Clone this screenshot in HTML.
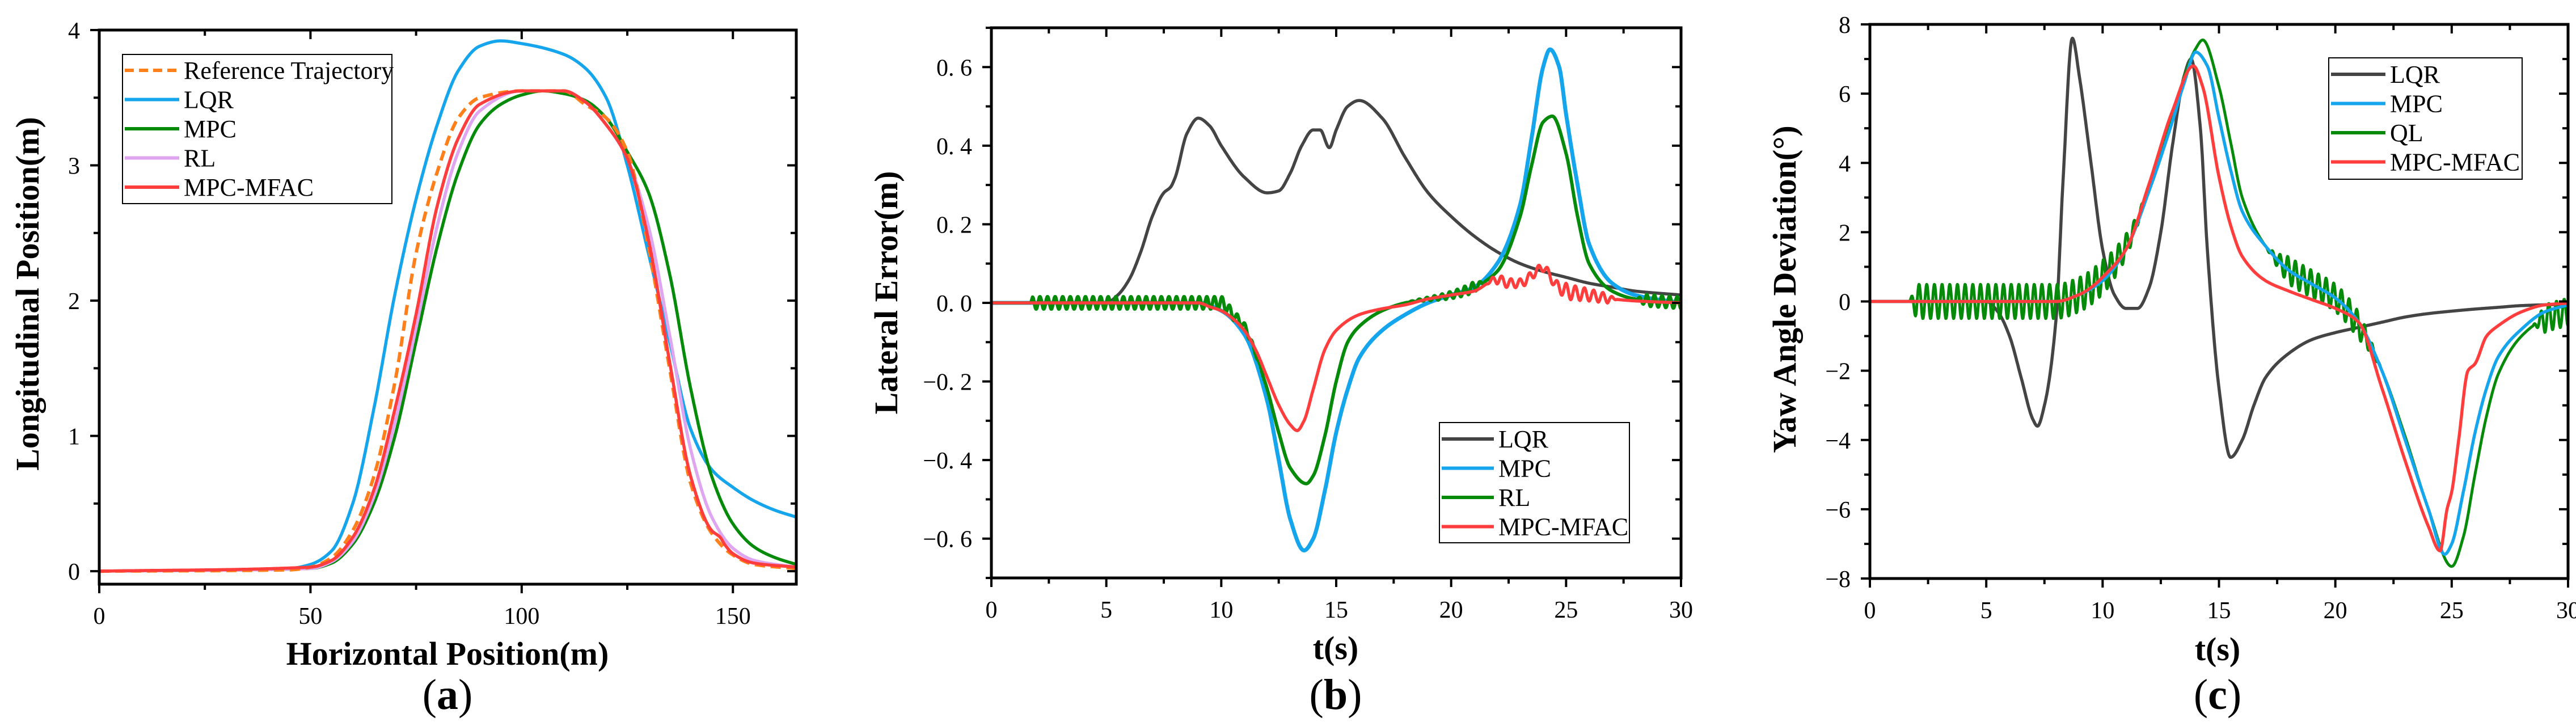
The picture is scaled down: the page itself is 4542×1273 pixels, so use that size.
<!DOCTYPE html>
<html><head><meta charset="utf-8"><style>
html,body{margin:0;padding:0;background:#fff;}
svg{display:block;}
text{font-family:"Liberation Serif",serif;}
</style></head><body>
<svg id="fig" width="4542" height="1273" viewBox="0 0 4542 1273" xmlns="http://www.w3.org/2000/svg"></svg>
<script>
// ---------- Panel (a) data ----------
const aRefX  = [0,45,50,55,60,65,70,75,80,85,90,100,110,115,120,125,130,135,140,145,150,155,165];
const aRefY  = [0,0.01,0.03,0.1,0.3,0.7,1.4,2.35,2.95,3.35,3.5,3.55,3.55,3.45,3.35,3.1,2.4,1.5,0.65,0.28,0.12,0.05,0.02];
const aLqrX  = [0,45,50,55,60,65,70,75,80,85,90,95,100,110,115,120,125,130,135,140,145,150,155,160,165];
const aLqrY  = [0,0.02,0.05,0.15,0.5,1.2,2.05,2.75,3.3,3.7,3.88,3.92,3.9,3.82,3.72,3.5,3.0,2.35,1.7,1.05,0.75,0.62,0.52,0.45,0.4];
const aMpcX  = [0,50,55,60,65,70,75,80,85,90,95,100,105,110,115,120,125,130,135,140,145,150,155,160,165];
const aMpcY  = [0,0.02,0.06,0.2,0.5,1.0,1.7,2.4,2.95,3.3,3.45,3.52,3.55,3.53,3.48,3.35,3.1,2.8,2.2,1.35,0.7,0.35,0.18,0.1,0.05];
const aRlX   = [0,50,55,60,65,70,75,80,85,90,100,110,115,120,125,130,135,140,145,150,155,165];
const aRlY   = [0,0.02,0.07,0.22,0.55,1.1,1.8,2.55,3.1,3.4,3.55,3.55,3.47,3.3,3.05,2.55,1.75,0.9,0.4,0.17,0.08,0.03];
const aMfX   = [0,50,55,60,65,70,75,80,85,90,100,110,115,120,125,130,135,140,145,147,148,150,155,165];
const aMfY   = [0,0.03,0.08,0.25,0.6,1.2,1.9,2.7,3.2,3.45,3.55,3.55,3.47,3.3,3.05,2.45,1.55,0.7,0.3,0.25,0.2,0.13,0.06,0.03];
const aXTicks = [0,50,100,150];
const aYTicks = [0,1,2,3,4];

// ---------- Panel (b) data ----------
const bLqrT = [0,5,5.5,6,6.5,7,7.5,7.8,8,8.5,9,9.5,10,11,12,12.5,13,13.5,14,14.3,14.7,15,15.5,16,17,18,19,20,21,22,23,24,25,26,27,28,30];
const bLqrV = [0,0,0.02,0.06,0.13,0.22,0.28,0.295,0.32,0.43,0.47,0.45,0.4,0.32,0.28,0.285,0.33,0.4,0.44,0.44,0.395,0.44,0.5,0.515,0.47,0.37,0.28,0.22,0.17,0.13,0.1,0.08,0.065,0.05,0.04,0.03,0.02];
const bMpcT = [0,9,10,11,12,12.5,13,13.6,14,14.5,15,15.5,16,17,18,19,20,21,22,23,23.5,24,24.3,24.7,25,25.5,26,27,28,30];
const bMpcV = [0,0,-0.02,-0.08,-0.25,-0.4,-0.55,-0.63,-0.6,-0.48,-0.33,-0.22,-0.14,-0.07,-0.03,0,0.02,0.04,0.1,0.25,0.42,0.6,0.645,0.6,0.48,0.3,0.15,0.05,0.02,0];
const bRlT  = [0,10,10.5,11,11.5,12,12.5,13,13.7,14,14.5,15,15.5,16,17,18,20,21,22,23,23.5,24,24.4,25,25.5,26,27,28,30];
const bRlV  = [0,0,-0.03,-0.06,-0.13,-0.22,-0.33,-0.42,-0.46,-0.44,-0.34,-0.2,-0.1,-0.06,-0.02,0,0.02,0.04,0.08,0.22,0.35,0.46,0.475,0.38,0.22,0.1,0.03,0.01,0];
const bRlOscT = [0,1.7,1.8,10,11,12,18,21,21.5,28,28.5,30];
const bRlOscA = [0,0,0.016,0.016,0.01,0,0,0.014,0,0,0.015,0.015];
const bMfT  = [0,9,9.5,10,10.5,11,11.5,12,12.5,13,13.3,13.6,14,14.5,15,16,17,18,19,20,21,22,22.5,23,23.5,24,24.5,25,26,27,28,30];
const bMfV  = [0,0,-0.01,-0.02,-0.04,-0.07,-0.12,-0.19,-0.26,-0.31,-0.325,-0.3,-0.22,-0.12,-0.07,-0.03,-0.015,-0.005,0.01,0.02,0.03,0.06,0.05,0.05,0.07,0.09,0.05,0.03,0.02,0.01,0.005,0];
const bMfOscT = [0,21.5,22,24.5,25,26.8,27.2,30];
const bMfOscA = [0,0,0.012,0.01,0.02,0.012,0,0];
const bXTicks = [0,5,10,15,20,25,30];
const bYTicks = [-0.6,-0.4,-0.2,0,0.2,0.4,0.6];

// ---------- Panel (c) data ----------
const cLqrT = [0,5,5.5,6,6.5,7,7.2,7.5,8,8.3,8.7,9,9.5,10,10.5,11,11.5,12,12.5,13,13.5,13.8,14.2,14.5,15,15.5,16,16.5,17,18,19,20,21,22,23,24,25,26,27,28,30];
const cLqrV = [0,0,-0.3,-1.0,-2.2,-3.4,-3.6,-3.0,-0.5,3.5,7.6,6.5,4.0,1.5,0.2,-0.2,-0.2,0.4,2.0,4.5,6.5,7.0,5.0,1.5,-2.5,-4.5,-4.0,-3.0,-2.2,-1.5,-1.1,-0.9,-0.75,-0.6,-0.45,-0.35,-0.28,-0.22,-0.17,-0.12,-0.08];
const cMpcT = [0,8,9,10,11,12,13,13.5,14,14.5,15,15.5,16,17,18,19,20,21,22,23,24,24.7,25,25.5,26,26.5,27,28,29,30];
const cMpcV = [0,0,0.2,0.6,1.5,3.2,5.2,6.3,7.2,6.8,5.3,3.8,2.6,1.6,0.9,0.5,0.1,-0.6,-2.0,-4.0,-6.0,-7.3,-7.0,-5.5,-3.8,-2.5,-1.6,-0.8,-0.3,-0.1];
const cQlT  = [0,8,9,10,11,12,13,14,14.3,15,15.5,16,17,18,19,20,21,22,23,24,25,25.5,26,26.5,27,28,29,30];
const cQlV  = [0,0,0.2,0.7,1.6,3.3,5.4,7.3,7.55,6.2,4.6,3.0,1.6,0.9,0.5,0.1,-0.7,-2.0,-3.9,-6.0,-7.65,-6.8,-5.0,-3.3,-2.1,-1.0,-0.5,-0.3];
const cQlOscT = [0,1.7,2.0,10,11,12,17,18,21,22,28.5,29,30];
const cQlOscA = [0,0,0.5,0.5,0.35,0,0,0.4,0.4,0,0,0.4,0.4];
const cMfT  = [0,8,9,9.5,10,11,12,13,13.9,14.3,15,15.5,16,17,18,19,20,21,22,23,24,24.5,24.8,25,25.3,25.7,26,26.5,27,28,29,30];
const cMfV  = [0,0,0.2,0.4,0.7,1.5,3.4,5.5,6.8,6.2,3.6,2.2,1.3,0.6,0.3,0.05,-0.2,-0.6,-2.5,-4.6,-6.5,-7.2,-6.0,-5.5,-4.0,-2.0,-1.8,-1.0,-0.7,-0.3,-0.1,-0.05];
const cXTicks = [0,5,10,15,20,25,30];
const cYTicks = [-8,-6,-4,-2,0,2,4,6,8];

// ---------- helpers ----------
const NS = "http://www.w3.org/2000/svg";
const svg = document.getElementById('fig');
function mk(tag, attrs, parent){
  const e = document.createElementNS(NS, tag);
  for (const k in attrs) e.setAttribute(k, attrs[k]);
  (parent||svg).appendChild(e);
  return e;
}
function lerp(xs, ys, x){
  if (x <= xs[0]) return ys[0];
  for (let i=1;i<xs.length;i++){
    if (x <= xs[i]){ const f=(x-xs[i-1])/(xs[i]-xs[i-1]); return ys[i-1]+f*(ys[i]-ys[i-1]); }
  }
  return ys[ys.length-1];
}
// monotone cubic (Fritsch-Carlson) interpolator
function monoInterp(xs, ys){
  const n=xs.length, d=[], m=new Array(n).fill(0);
  for (let i=0;i<n-1;i++) d.push((ys[i+1]-ys[i])/(xs[i+1]-xs[i]));
  m[0]=d[0]; m[n-1]=d[n-2];
  for (let i=1;i<n-1;i++){
    if (d[i-1]*d[i]<=0) m[i]=0;
    else { const h0=xs[i]-xs[i-1], h1=xs[i+1]-xs[i]; const w1=2*h1+h0, w2=h1+2*h0; m[i]=(w1+w2)/(w1/d[i-1]+w2/d[i]); }
  }
  return function(x){
    if (x<=xs[0]) return ys[0];
    if (x>=xs[n-1]) return ys[n-1];
    let i=0; while (x>xs[i+1]) i++;
    const h=xs[i+1]-xs[i], t=(x-xs[i])/h, t2=t*t, t3=t2*t;
    return (2*t3-3*t2+1)*ys[i]+(t3-2*t2+t)*h*m[i]+(-2*t3+3*t2)*ys[i+1]+(t3-t2)*h*m[i+1];
  };
}
function curvePts(xs, ys, sx, sy, osc){
  const f = monoInterp(xs, ys);
  const x0=xs[0], x1=xs[xs.length-1];
  const step = osc ? osc[2]/16 : (x1-x0)/1500;
  const out=[];
  for (let t=x0; t<=x1+1e-9; t+=step){
    let v = f(t);
    if (osc) v += lerp(osc[0],osc[1],t)*Math.sin(2*Math.PI*(t-1.7)/osc[2]);
    out.push([sx(t), sy(v)]);
  }
  return out;
}
function ptsStr(p){ return p.map(q=>q[0].toFixed(1)+','+q[1].toFixed(1)).join(' '); }

function panel(cfg){
  const g = mk('g', {});
  
  
  const sx = v => cfg.L + (v-cfg.x0)/(cfg.x1-cfg.x0)*(cfg.R-cfg.L);
  const sy = v => cfg.B - (v-cfg.y0)/(cfg.y1-cfg.y0)*(cfg.B-cfg.T);
  const clipId = cfg.name+'-clip';
  const cp = mk('clipPath', {id:clipId}, g);
  mk('rect', {x:cfg.L, y:cfg.T, width:cfg.R-cfg.L, height:cfg.B-cfg.T}, cp);
  const plot = mk('g', {'clip-path':'url(#'+clipId+')'}, g);
  
  
  cfg.series.forEach(s=>{
    const pts = curvePts(s.x, s.y, sx, sy, s.osc);
    const pl = mk('polyline', {points:ptsStr(pts), fill:'none', stroke:s.color, 'stroke-width':s.w||5.5, 'stroke-linejoin':'round', 'stroke-linecap':s.dash?'butt':'round'}, plot);
    if (s.dash) pl.setAttribute('stroke-dasharray', s.dash);
    
    
  });
  const fr = mk('rect', {x:cfg.L, y:cfg.T, width:cfg.R-cfg.L, height:cfg.B-cfg.T, fill:'none', stroke:'#000', 'stroke-width':5}, g);
  
  
  const xt = cfg.xTicks;
  const xstep = xt[1]-xt[0];
  for (let v=cfg.x0; v<=cfg.x1+1e-9; v+=xstep/2){
    const major = Math.abs(((v-xt[0])/xstep) - Math.round((v-xt[0])/xstep))<1e-6;
    const len = major?16:10;
    mk('line', {x1:sx(v), x2:sx(v), y1:cfg.B, y2:cfg.B+len, stroke:'#000','stroke-width':4}, g);
    mk('line', {x1:sx(v), x2:sx(v), y1:cfg.T, y2:cfg.T+len, stroke:'#000','stroke-width':4}, g);
  }
  xt.forEach(v=>{
    const t = mk('text', {x:sx(v), y:cfg.B+70, 'font-size':42, 'text-anchor':'middle', fill:'#000'}, g);
    t.textContent = cfg.xFmt ? cfg.xFmt(v) : String(v);
    
    
  });
  const yt = cfg.yTicks, ystep = yt[1]-yt[0];
  for (let k=-40;k<=40;k++){
    const v = yt[0] + k*ystep/2;
    if (v < cfg.y0-1e-9 || v > cfg.y1+1e-9) continue;
    const major = k%2===0;
    const len = major?16:10;
    mk('line', {x1:cfg.L-len, x2:cfg.L, y1:sy(v), y2:sy(v), stroke:'#000','stroke-width':4}, g);
    mk('line', {x1:cfg.R-len, x2:cfg.R, y1:sy(v), y2:sy(v), stroke:'#000','stroke-width':4}, g);
  }
  yt.forEach(v=>{
    const t = mk('text', {x:cfg.L-34, y:sy(v)+15, 'font-size':42, 'text-anchor':'end', fill:'#000'}, g);
    t.textContent = cfg.yFmt ? cfg.yFmt(v) : String(v);
    
    
  });
  const xtl = mk('text', {x:cfg.xTitleX, y:cfg.xTitleY, 'font-size':58, 'font-weight':'bold', 'text-anchor':'middle', fill:'#000'}, g);
  xtl.textContent = cfg.xTitle;
  
  
  const ytl = mk('text', {x:0, y:0, 'font-size':58, 'font-weight':'bold', 'text-anchor':'middle', fill:'#000', transform:'translate('+cfg.yTitleX+','+cfg.yTitleY+') rotate(-90)'}, g);
  ytl.textContent = cfg.yTitle;
  
  
  const cap = mk('text', {x:cfg.xTitleX, y:1250, 'font-size':76, fill:'#000', 'text-anchor':'middle'}, g);
  cap.innerHTML = '(<tspan font-weight="bold">'+cfg.letter+'</tspan>)';
  
  
  const lg = mk('g', {}, g);
  
  
  const Lg = cfg.legend;
  mk('rect', {x:Lg.x, y:Lg.y, width:Lg.w, height:Lg.h, fill:'#fff', stroke:'#000', 'stroke-width':2}, lg);
  Lg.items.forEach((it,i)=>{
    const cy = Lg.y + Lg.first + i*Lg.gap;
    const ln = mk('line', {x1:Lg.x+4, x2:Lg.x+Lg.lineLen, y1:cy, y2:cy, stroke:it.color, 'stroke-width':6}, lg);
    if (it.dash) ln.setAttribute('stroke-dasharray', it.dash);
    const tx = mk('text', {x:Lg.x+Lg.lineLen+8, y:cy+15, 'font-size':44, fill:'#000'}, lg);
    tx.textContent = it.label;
    
    
  });
}

const BLUE='#14a5ec', GREEN='#058a0a', ORANGE='#ff7f1a', PINK='#e0a5f0', RED='#ff3d3d', GRAY='#444444';
const bFmt = v => (v<0?'\u22120. ':'0. ')+Math.round(Math.abs(v)*10);
const cFmt = v => (v<0?'\u2212':'')+Math.abs(v);

panel({name:'panel-a', letter:'a', L:175, R:1404, T:53, B:1030, x0:0, x1:165, y0:-0.096, y1:4,
  xTicks:aXTicks, yTicks:aYTicks,
  xTitle:'Horizontal Position(m)', xTitleX:789, xTitleY:1172,
  yTitle:'Longitudinal Position(m)', yTitleX:68, yTitleY:518,
  series:[
    {key:'lqr', x:aLqrX, y:aLqrY, color:BLUE},
    {key:'mpc', x:aMpcX, y:aMpcY, color:GREEN},
    {key:'rl', x:aRlX, y:aRlY, color:PINK},
    {key:'reference', x:aRefX, y:aRefY, color:ORANGE, dash:'18,10', w:6},
    {key:'mpc-mfac', x:aMfX, y:aMfY, color:RED}
  ],
  legend:{x:216, y:96, w:475, h:263, first:28, gap:51.5, lineLen:100, items:[
    {label:'Reference Trajectory', color:ORANGE, dash:'16,9'},
    {label:'LQR', color:BLUE},{label:'MPC', color:GREEN},{label:'RL', color:PINK},{label:'MPC-MFAC', color:RED}]}
});

panel({name:'panel-b', letter:'b', L:1748, R:2964, T:49, B:1019, x0:0, x1:30, y0:-0.7, y1:0.7,
  xTicks:bXTicks, yTicks:bYTicks, yFmt:bFmt,
  xTitle:'t(s)', xTitleX:2355, xTitleY:1162,
  yTitle:'Lateral Error(m)', yTitleX:1582, yTitleY:516,
  series:[
    {key:'lqr', x:bLqrT, y:bLqrV, color:GRAY},
    {key:'mpc', x:bMpcT, y:bMpcV, color:BLUE, w:7},
    {key:'rl', x:bRlT, y:bRlV, color:GREEN, w:6, osc:[bRlOscT, bRlOscA, 0.33]},
    {key:'mpc-mfac', x:bMfT, y:bMfV, color:RED, w:5.5, osc:[bMfOscT, bMfOscA, 0.4]}
  ],
  legend:{x:2538, y:745, w:335, h:212, first:29, gap:51.5, lineLen:96, items:[
    {label:'LQR', color:GRAY},{label:'MPC', color:BLUE},{label:'RL', color:GREEN},{label:'MPC-MFAC', color:RED}]}
});

panel({name:'panel-c', letter:'c', L:3297, R:4528, T:43, B:1020, x0:0, x1:30, y0:-8, y1:8,
  xTicks:cXTicks, yTicks:cYTicks, yFmt:cFmt,
  xTitle:'t(s)', xTitleX:3910, xTitleY:1164,
  yTitle:'Yaw Angle Deviation(\u00B0)', yTitleX:3166, yTitleY:510,
  series:[
    {key:'lqr', x:cLqrT, y:cLqrV, color:GRAY},
    {key:'ql', x:cQlT, y:cQlV, color:GREEN, w:5, osc:[cQlOscT, cQlOscA, 0.33]},
    {key:'mpc', x:cMpcT, y:cMpcV, color:BLUE},
    {key:'mpc-mfac', x:cMfT, y:cMfV, color:RED}
  ],
  legend:{x:4106, y:102, w:341, h:214, first:29, gap:51.5, lineLen:100, items:[
    {label:'LQR', color:GRAY},{label:'MPC', color:BLUE},{label:'QL', color:GREEN},{label:'MPC-MFAC', color:RED}]}
});
</script>
</body></html>
